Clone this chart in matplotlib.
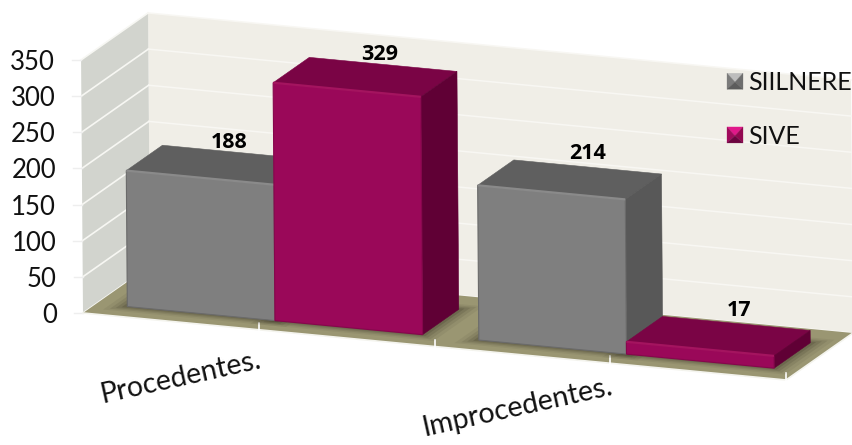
import numpy as np
import matplotlib
matplotlib.use("Agg")
import matplotlib.pyplot as plt
from matplotlib.patches import Polygon, Patch
from matplotlib.legend_handler import HandlerBase

# ---- data ----
categories = ["Procedentes.", "Improcedentes."]
series_names = ["SIILNERE", "SIVE"]
siilnere = [188, 214]
sive = [329, 17]
y_ticks = [0, 50, 100, 150, 200, 250, 300, 350]

# ---- oblique 3D projection (category, depth, value) -> pixels ----
ORIGIN = np.array([83.0, 313.0])
U_VEC = np.array([351.5, 33.5])
D_VEC = np.array([67.0, -47.0])
V_VEC = np.array([-0.0055, -0.723])


def proj(u, d, v):
    return tuple(ORIGIN + u * U_VEC + d * D_VEC + v * V_VEC)


BODY = "Lato"
BOLD = "Open Sans"
WALL_BACK = "#f0eee7"
WALL_LEFT = "#d2d4ce"
FLOOR = "#9a9672"
STYLES = [
    dict(front="#7f7f7f", top="#5f5f5f", side="#585858", hi="#8a8a8a", lo="#6a6a6a"),
    dict(front="#9a0859", top="#7a0445", side="#600035", hi="#a4145f", lo="#86064c"),
]
BAR_W = 0.42
BAR_START = 0.088
D0, D1 = 0.2, 0.74
VMAX = y_ticks[-1]

fig = plt.figure(figsize=(8.52, 4.45), dpi=100)
ax = fig.add_axes([0, 0, 1, 1])
ax.set_xlim(0, 852)
ax.set_ylim(445, 0)
ax.axis("off")

# walls and floor
ax.add_patch(Polygon([proj(0, 1, 0), proj(2, 1, 0), proj(2, 1, VMAX), proj(0, 1, VMAX)],
                     fc=WALL_BACK, ec="none", zorder=1))
ax.add_patch(Polygon([proj(0, 0, 0), proj(0, 1, 0), proj(0, 1, VMAX), proj(0, 0, VMAX)],
                     fc=WALL_LEFT, ec="none", zorder=1))
floor = Polygon([proj(0, 0, 0), proj(2, 0, 0), proj(2, 1, 0), proj(0, 1, 0)],
                fc=FLOOR, ec="none", zorder=2)
ax.add_patch(floor)

# gridlines and value axis
for t in y_ticks:
    ax.plot(*zip(proj(0, 0, t), proj(0, 1, t)), color="#f7f7f3", lw=1.2, zorder=1.5)
    ax.plot(*zip(proj(0, 1, t), proj(2, 1, t)), color="#f8f7f3", lw=1.1, zorder=1.5)
    x, y = proj(0, 0, t)
    ax.plot([x - 9, x], [y, y], color="#eeeeee", lw=1, zorder=1.5)
    ax.text(x - 26, y, str(t), ha="right", va="center_baseline",
            family=BODY, fontsize=18.5, color="#111111", zorder=6)

# category axis: front edge and ticks every half category
ax.plot(*zip(proj(0, 0, 0), proj(2, 0, 0), proj(2, 1, 0)), color="#f4f4ee", lw=1.2, zorder=2.5)
for u in np.arange(0.5, 2.01, 0.5):
    x, y = proj(u, 0, 0)
    ax.plot([x, x], [y - 7, y + 1], color="#ffffff", lw=1.2, zorder=2.6)

# floor shadows
n_cat = len(categories)
lefts = []
for c in range(n_cat):
    lefts += [c + BAR_START, c + BAR_START + BAR_W]
heights = [v for pair in zip(siilnere, sive) for v in pair]
for u0 in lefts:
    u1 = u0 + BAR_W
    for g, a in [(0.05, 0.08), (0.036, 0.12), (0.024, 0.16), (0.012, 0.22)]:
        sh = Polygon([proj(u0 - g, D0 - 2 * g, 0), proj(u1 + g, D0 - 2 * g, 0),
                      proj(u1 + g, D1 + 2 * g, 0), proj(u0 - g, D1 + 2 * g, 0)],
                     fc="#3c3826", ec="none", alpha=a, zorder=2.7)
        ax.add_patch(sh)
        sh.set_clip_path(floor)

# bars, left to right so that nearer ones cover farther ones
for i, (u0, h) in enumerate(zip(lefts, heights)):
    st = STYLES[i % 2]
    u1 = u0 + BAR_W
    z = 3 + i * 0.1
    ax.add_patch(Polygon([proj(u0, D0, h), proj(u0, D1, h), proj(u1, D1, h), proj(u1, D0, h)],
                         fc=st["top"], ec=st["top"], lw=0.4, zorder=z))
    ax.add_patch(Polygon([proj(u1, D0, 0), proj(u1, D1, 0), proj(u1, D1, h), proj(u1, D0, h)],
                         fc=st["side"], ec=st["side"], lw=0.4, zorder=z))
    ax.add_patch(Polygon([proj(u0, D0, 0), proj(u1, D0, 0), proj(u1, D0, h), proj(u0, D0, h)],
                         fc=st["front"], ec=st["lo"], lw=0.8, zorder=z + 0.01))
    ax.plot(*zip(proj(u0, D0, h), proj(u1, D0, h)), color=st["hi"], lw=1.6, zorder=z + 0.02,
            solid_capstyle="butt")

# data labels
label_offsets = [(-7, -10), (-4, -10), (0.4, -13), (2.7, -13)]
for u0, h, (dx, dy) in zip(lefts, heights, label_offsets):
    x, y = proj(u0 + BAR_W / 2, D1, h)
    ax.text(x + dx, y + dy, str(h), ha="center", va="center", family=BOLD, weight="bold",
            fontsize=15.5, color="#000000", zorder=7)

# category labels, rotated and ending near a tick
cat_label_drop = [30, 23]
for c, (name, drop) in enumerate(zip(categories, cat_label_drop)):
    x, y = proj(c + 0.5, 0, 0)
    ax.text(x + 2, y + drop, name, rotation=12.5, rotation_mode="anchor", ha="right", va="center",
            family=BODY, fontsize=20.5, color="#111111", zorder=6)


# legend with pyramid-bevelled keys
class BevelHandler(HandlerBase):
    def __init__(self, shades):
        super().__init__()
        self.shades = shades

    def create_artists(self, legend, orig, xd, yd, w, h, fs, trans):
        s = min(w, h)
        x0, y0 = -xd + (w - s) / 2, -yd + (h - s) / 2
        a = (x0, y0)
        b = (x0 + s, y0)
        c = (x0 + s, y0 + s)
        d = (x0, y0 + s)
        m = (x0 + s / 2, y0 + s * 0.45)
        out = []
        for tri, col in zip([(d, c, m), (a, d, m), (b, c, m), (a, b, m)], self.shades):
            out.append(Polygon(tri, fc=col, ec=col, lw=0.2, transform=trans))
        return out


handles = [Patch(label=series_names[0]), Patch(label=series_names[1])]
leg = ax.legend(handles=handles, frameon=False, loc="upper left",
                bbox_to_anchor=(727 / 852, 1 - 71 / 445), borderpad=0, borderaxespad=0,
                prop=dict(family=BODY, size=18), labelcolor="#111111",
                labelspacing=1.23, handlelength=0.64, handleheight=0.64, handletextpad=0.22,
                handler_map={
                    handles[0]: BevelHandler(["#bdbdbd", "#7b7b7b", "#6e6e6e", "#5c5c5c"]),
                    handles[1]: BevelHandler(["#e0188a", "#a00a5c", "#920850", "#6c0440"]),
                })
leg.set_zorder(8)

fig.savefig("out.png", dpi=100)
